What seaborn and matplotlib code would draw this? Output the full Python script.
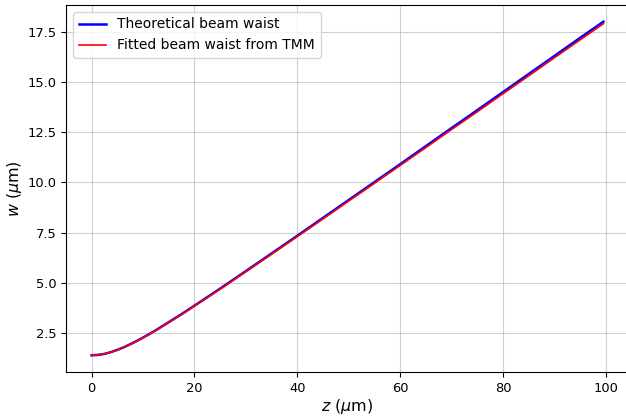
import numpy as np
import pandas as pd
import matplotlib
matplotlib.use("Agg")
import matplotlib.pyplot as plt
import seaborn as sns

# valores (z em um, w em um)
z = [0, 1.25, 2.5, 3.75, 5, 6.25, 7.5, 8.75, 10, 12.5, 15, 17.5, 20, 25, 30, 35, 40, 45, 50,
     55, 60, 65, 70, 75, 80, 85, 90, 95, 99.5]
w_teorico = [1.40, 1.42, 1.47, 1.56, 1.67, 1.80, 1.95, 2.11, 2.28, 2.65, 3.05, 3.45, 3.87,
             4.72, 5.59, 6.47, 7.35, 8.24, 9.13, 10.02, 10.91, 11.81, 12.71, 13.60, 14.50,
             15.40, 16.30, 17.20, 18.00]
w_ajustado = [1.40, 1.42, 1.47, 1.56, 1.67, 1.80, 1.94, 2.10, 2.27, 2.64, 3.03, 3.43, 3.85,
              4.69, 5.56, 6.43, 7.31, 8.19, 9.08, 9.96, 10.85, 11.74, 12.64, 13.52, 14.42,
              15.31, 16.21, 17.10, 17.90]

df = pd.DataFrame({"z": z, "teo": w_teorico, "fit": w_ajustado})

fig = plt.figure(figsize=(6.26, 4.17), dpi=100)
# o original foi recortado: o eixo passa um pouco da borda direita
ax = fig.add_axes([66 / 626, 1 - 372 / 417, (629 - 66) / 626, (372 - 5) / 417])

sns.lineplot(data=df, x="z", y="teo", color="blue", linewidth=1.8,
             label="Theoretical beam waist", ax=ax)
sns.lineplot(data=df, x="z", y="fit", color="red", linewidth=1.2,
             label="Fitted beam waist from TMM", ax=ax)

ax.grid(True, color="#b0b0b0", alpha=0.6)
ax.set_xlabel(r"$z$ ($\mu$m)", fontsize=11.4, labelpad=1.5)
ax.set_ylabel(r"$w$ ($\mu$m)", fontsize=11.4, labelpad=2)
ax.tick_params(labelsize=9.4)
ax.legend(loc="upper left", fontsize=10)

plt.savefig("out.png", dpi=100)
